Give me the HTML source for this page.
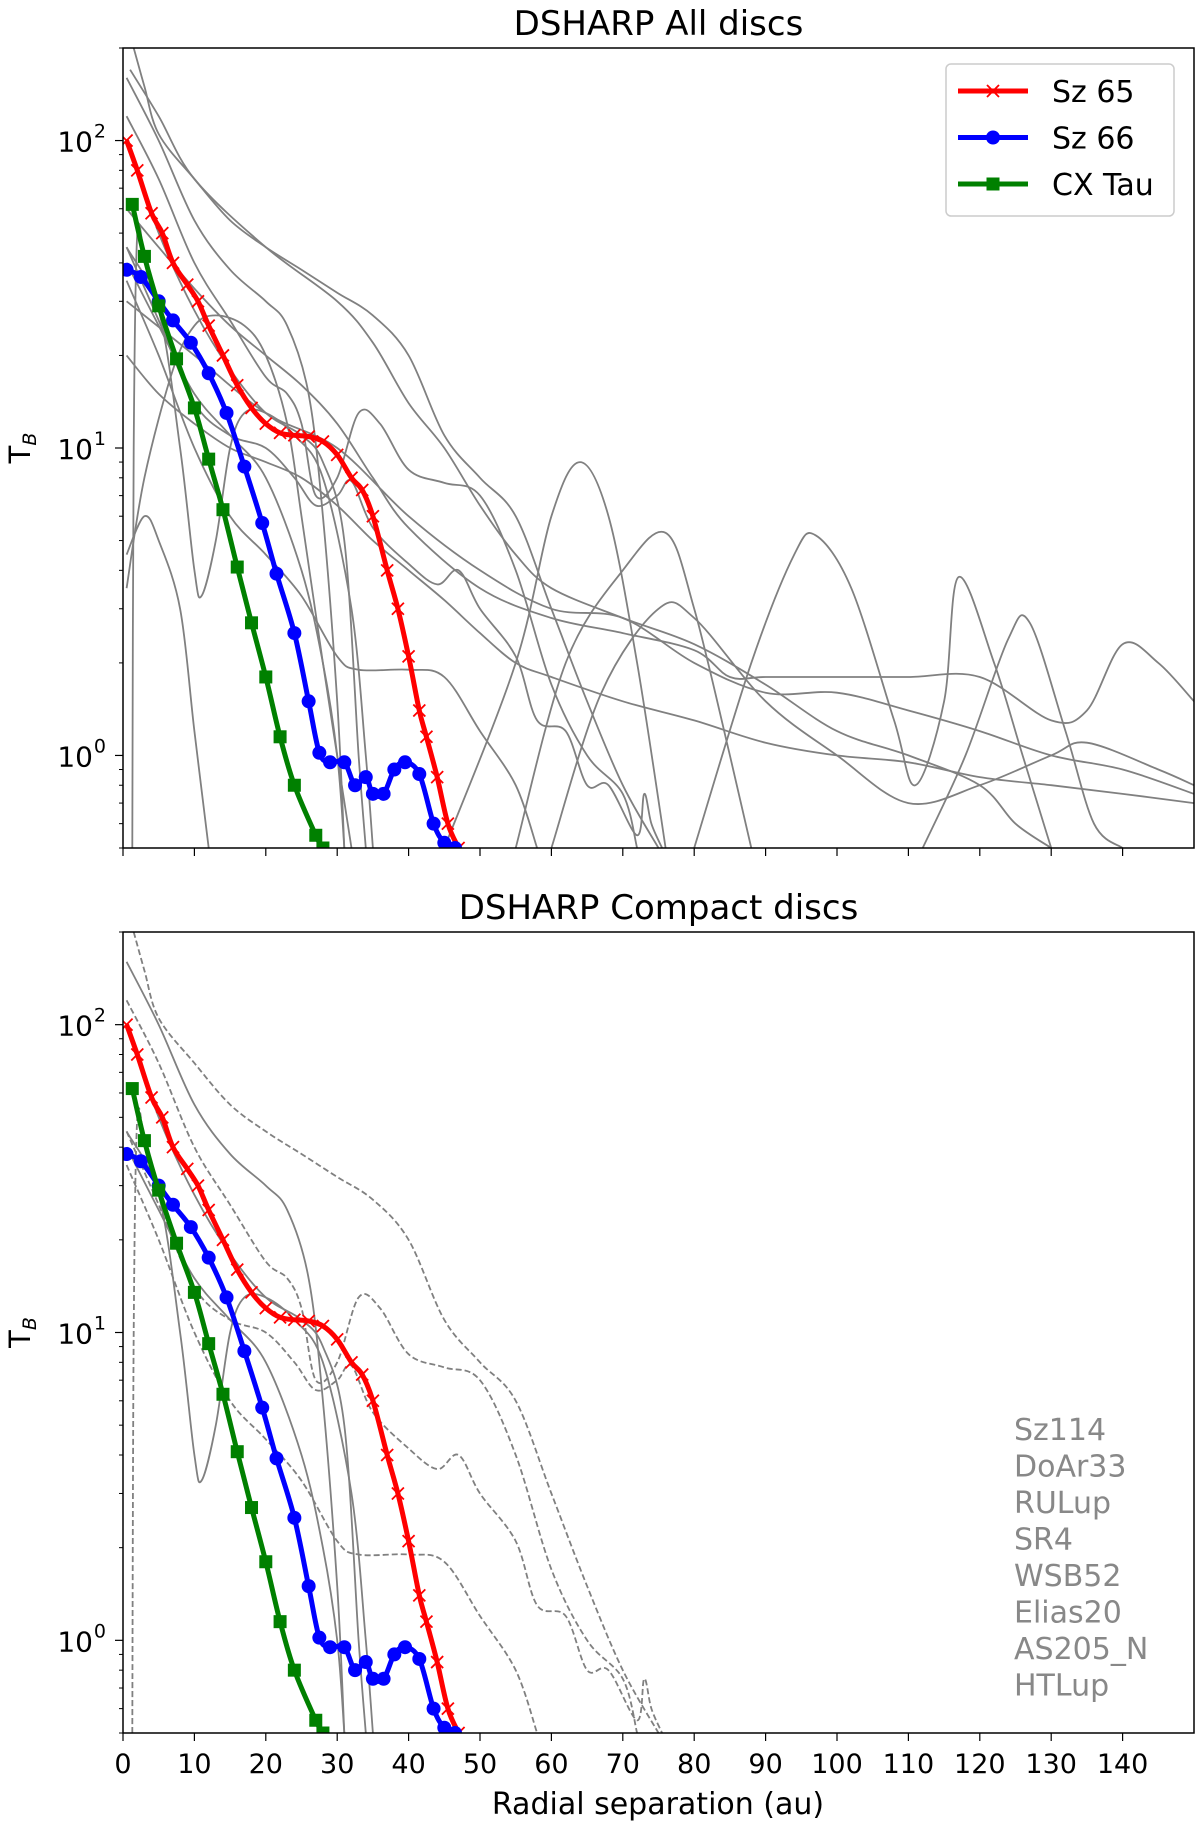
<!DOCTYPE html>
<html><head><meta charset="utf-8"><style>
body{margin:0;background:#fff;width:1200px;height:1825px;overflow:hidden}
svg{display:block;font-family:"DejaVu Sans","Liberation Sans",sans-serif}
</style></head><body>
<svg id="fig" width="1200" height="1825" viewBox="0 0 1200 1825" xmlns="http://www.w3.org/2000/svg"></svg>
<script>
// ---- data ----
const sz65 = [[0.5,100],[2,80],[4,58],[5.5,50],[7,40],[9,34],[10.5,30],[12,25],[14,20],[16,16],[18,13.5],[20,12],[22,11.2],[24,11],[26,10.9],[28,10.5],[30,9.5],[32,8],[33.5,7.3],[35,6],[37,4],[38.5,3],[40,2.1],[41.5,1.4],[42.5,1.15],[44,0.85],[45.5,0.6],[47,0.5]];
const sz66 = [[0.5,38],[2.5,36],[5,30],[7,26],[9.5,22],[12,17.5],[14.5,13],[17,8.7],[19.5,5.7],[21.5,3.9],[24,2.5],[26,1.5],[27.5,1.02],[29,0.95],[31,0.95],[32.5,0.8],[34,0.85],[35,0.75],[36.5,0.75],[38,0.9],[39.5,0.95],[41.5,0.87],[43.5,0.6],[45,0.52],[46.5,0.5]];
const cxtau = [[1.3,62],[3,42],[5,29],[7.5,19.5],[10,13.5],[12,9.2],[14,6.3],[16,4.1],[18,2.7],[20,1.8],[22,1.15],[24,0.8],[27,0.55],[28,0.5]];
const compactSolid = [
 [[0.5,160],[5,100],[10,55],[15,38],[20,30],[23,25],[26,15],[28,6],[30,1.5],[31,0.5]],
 [[0.5,100],[5,50],[10,28],[15,18],[20,13],[25,11],[28,9],[31,5],[33,1],[34,0.5]],
 [[0.5,45],[5,28],[8,10],[10,4],[11,3.3],[13,5],[15,10],[17,13],[20,13],[24,11],[28,8],[32,3],[34,1],[35,0.5]],
 [[0.5,40],[5,25],[10,15],[15,11],[20,8],[25,4],[28,2],[30,1],[31,0.5]]
];
const compactDashed = [
 [[1.5,200],[3,150],[5,105],[10,75],[15,55],[20,45],[25,38],[30,32],[35,27],[40,20],[45,11],[50,8],[55,6],[60,3],[65,1.5],[70,0.8],[75,0.5]],
 [[0.5,120],[5,75],[10,40],[15,26],[20,17],[23,15],[25,12],[27,7],[30,8],[33,13],[36,12],[40,8.5],[45,7.7],[50,7],[55,4],[60,1.7],[65,1],[70,0.75],[72,0.5]],
 [[0.5,45],[5,26],[10,14],[15,11],[20,10],[24,8],[27,6.5],[30,7],[32,7.8],[35,5.5],[40,4.2],[44,3.6],[47,4],[50,3],[55,2.1],[58,1.3],[62,1.2],[65,0.8],[68,0.8],[72,0.55],[73,0.75],[74,0.6],[75.5,0.5]],
 [[0.5,35],[5,20],[10,10],[15,6],[20,4.5],[25,3.3],[30,2.1],[33,1.9],[40,1.9],[45,1.8],[50,1.2],[55,0.8],[58,0.5]],
 [[1.3,0.5],[1.5,10],[2,50],[3,40]]
];
const extraGray = [
 [[0.5,4.5],[3,6],[5,5],[8,3],[10,1.2],[12,0.5]],
 [[0.5,3.5],[3,8],[7,18],[10,25],[13,27],[17,25],[20,20],[23,12],[25,6],[28,2],[32,0.5]],
 [[0.5,20],[5,15],[10,12],[15,10],[20,9],[25,8],[30,6.5],[35,5],[40,4],[45,3.2],[50,2.5],[55,2],[60,1.8],[70,1.5],[80,1.3],[90,1.1],[100,1],[110,0.95],[120,0.85],[130,0.8],[140,0.75],[150,0.7]],
 [[0.5,60],[5,45],[10,33],[15,25],[20,20],[25,16],[30,12],[35,8],[40,5.5],[50,3.5],[60,2.8],[70,2.5],[80,2.2],[85,1.8],[90,1.8],[100,1.8],[110,1.8],[120,1.8],[130,1.3],[135,1.4],[140,2.3],[145,2],[150,1.5]],
 [[0.5,30],[10,20],[20,13],[30,10],[40,6],[50,4],[60,3],[70,2.8],[80,2],[90,1.6],[100,1.6],[110,1.4],[120,1.2],[130,1],[140,0.9],[150,0.75]],
 [[45,0.5],[55,2],[60,6],[64,9],[68,6],[72,2],[76,0.5]],
 [[55,0.5],[62,2],[70,4],[76,5.3],[80,3],[85,1],[88,0.5]],
 [[80,0.5],[88,2],[94,4.5],[97,5.2],[102,3.5],[108,1.3],[111,0.8],[115,1.5],[117,3.8],[122,2],[126,1],[130,0.5]],
 [[112,0.5],[118,1],[124,2.4],[127,2.7],[132,1.2],[136,0.6],[140,0.5]],
 [[60,0.5],[67,1.6],[75,3],[80,2.8],[90,1.5],[100,1],[110,0.7],[120,0.8],[130,1],[135,1.1],[145,0.9],[150,0.8]],
 [[1,170],[5,120],[10,75],[20,45],[30,30],[35,22],[40,14],[45,10],[50,6.5],[55,4.5],[60,3.5],[70,2.8],[80,2.3],[90,1.7],[100,1.2],[110,1],[120,0.8],[125,0.6],[130,0.5]]
];
const xTicks = [0,10,20,30,40,50,60,70,80,90,100,110,120,130,140];
const yDecades = [0,1,2];
const compactNames = ["Sz114","DoAr33","RULup","SR4","WSB52","Elias20","AS205_N","HTLup"];
const legendNames = ["Sz 65","Sz 66","CX Tau"];

// ---- drawing ----
const NS="http://www.w3.org/2000/svg";
const svg=document.getElementById('fig');
function mk(tag,attrs,parent){const e=document.createElementNS(NS,tag);for(const k in attrs)e.setAttribute(k,attrs[k]);(parent||svg).appendChild(e);return e;}
const L=123,R=1194,XMIN=0,XMAX=150,YMIN=0.5,YMAX=200;
function sx(v){return L+(v-XMIN)/(XMAX-XMIN)*(R-L);}
function makeY(top,bot){return v=>bot-(Math.log10(v)-Math.log10(YMIN))/(Math.log10(YMAX)-Math.log10(YMIN))*(bot-top);}
function pathD(pts,sy){
  const P=pts.map(p=>[sx(p[0]),sy(p[1])]);
  let d='M'+P[0][0].toFixed(1)+','+P[0][1].toFixed(1);
  for(let i=0;i<P.length-1;i++){
    const p0=P[Math.max(0,i-1)],p1=P[i],p2=P[i+1],p3=P[Math.min(P.length-1,i+2)];
    const c1=[p1[0]+(p2[0]-p0[0])/6,p1[1]+(p2[1]-p0[1])/6];
    const c2=[p2[0]-(p3[0]-p1[0])/6,p2[1]-(p3[1]-p1[1])/6];
    d+=`C${c1[0].toFixed(1)},${c1[1].toFixed(1)} ${c2[0].toFixed(1)},${c2[1].toFixed(1)} ${p2[0].toFixed(1)},${p2[1].toFixed(1)}`;
  }
  return d;
}

function panel(id,top,bot,title,isCompact){
  const sy=makeY(top,bot);
  const g=mk('g',{});
  
  
  const cp=mk('clipPath',{id:id+'clip'},g);mk('rect',{x:L,y:top,width:R-L,height:bot-top},cp);
  const plot=mk('g',{'clip-path':'url(#'+id+'clip)'},g);
  const grays = isCompact ? [] : extraGray;
  grays.forEach((c,i)=>{const p=mk('path',{d:pathD(c,sy),fill:'none',stroke:'#808080','stroke-width':1.8},plot);
    
    });
  compactSolid.forEach((c,i)=>{const p=mk('path',{d:pathD(c,sy),fill:'none',stroke:'#808080','stroke-width':1.8},plot);
    
    });
  compactDashed.forEach((c,i)=>{const p=mk('path',{d:pathD(c,sy),fill:'none',stroke:'#808080','stroke-width':1.8,'stroke-dasharray':isCompact?'6,3':'none'},plot);
    
    });
  const series=[[sz65,'#ff0000','x','sz65'],[sz66,'#0000ff','o','sz66'],[cxtau,'#008000','s','cxtau']];
  series.forEach(([d,col,m,nm])=>{
    const p=mk('path',{d:pathD(d,sy),fill:'none',stroke:col,'stroke-width':5,'stroke-linejoin':'round'},plot);
    
    
    d.forEach(pt=>{const X=sx(pt[0]),Y=sy(pt[1]);let e;
      if(m==='x')e=mk('path',{d:`M${X-6},${Y-6}L${X+6},${Y+6}M${X-6},${Y+6}L${X+6},${Y-6}`,stroke:col,'stroke-width':1.8},plot);
      else if(m==='o')e=mk('circle',{cx:X,cy:Y,r:7,fill:col},plot);
      else e=mk('rect',{x:X-6.5,y:Y-6.5,width:13,height:13,fill:col},plot);
      
      });
  });
  const fr=mk('rect',{x:L,y:top,width:R-L,height:bot-top,fill:'none',stroke:'#000','stroke-width':1.5},g);
  
  
  xTicks.forEach(t=>{mk('line',{x1:sx(t),x2:sx(t),y1:bot,y2:bot+8,stroke:'#000','stroke-width':1.2},g);
    if(isCompact){const tx=mk('text',{x:sx(t),y:bot+40,'font-size':27,'text-anchor':'middle'},g);tx.textContent=t;
      
      }});
  yDecades.forEach(dcd=>{const Y=sy(Math.pow(10,dcd));
    mk('line',{x1:L-8,x2:L,y1:Y,y2:Y,stroke:'#000','stroke-width':1.2},g);
    const tx=mk('text',{x:L-30,y:Y+11,'font-size':28,'text-anchor':'end'},g);tx.textContent='10';
    
    
    const sp=mk('text',{x:L-17,y:Y-3,'font-size':19,'text-anchor':'end'},g);sp.textContent=String(dcd);
    for(let k=2;k<10;k++){const v=k*Math.pow(10,dcd-1);if(v<YMIN||v>YMAX)continue;const yy=sy(v);
      mk('line',{x1:L-4,x2:L,y1:yy,y2:yy,stroke:'#000','stroke-width':1},g);}
  });
  [2,3,4,5,6,7,8,9].forEach(k=>{const v=k*100;if(v<=YMAX){const yy=sy(v);mk('line',{x1:L-4,x2:L,y1:yy,y2:yy,stroke:'#000','stroke-width':1},g);}});
  const tt=mk('text',{x:(L+R)/2,y:top-13,'font-size':34,'text-anchor':'middle'},g);tt.textContent=title;
  
  
  const yl=mk('text',{x:0,y:0,'font-size':29,'text-anchor':'middle',transform:`translate(30,${(top+bot)/2}) rotate(-90)`},g);
  yl.innerHTML='T<tspan font-size="19" dy="6" font-style="italic">B</tspan>';
  
  
}
panel('all',48,848,'DSHARP All discs',false);
panel('compact',932,1733,'DSHARP Compact discs',true);

// legend
const lg=mk('g',{});


mk('rect',{x:946,y:64,width:228,height:152,rx:5,fill:'#fff',stroke:'#ccc','stroke-width':1.5},lg);
[['#ff0000','x'],['#0000ff','o'],['#008000','s']].forEach(([col,m],i)=>{const y=91+i*46.5;
  mk('line',{x1:958,x2:1028,y1:y,y2:y,stroke:col,'stroke-width':5},lg);
  if(m==='x')mk('path',{d:`M987,${y-6}L999,${y+6}M987,${y+6}L999,${y-6}`,stroke:col,'stroke-width':1.8},lg);
  else if(m==='o')mk('circle',{cx:993,cy:y,r:7,fill:col},lg);
  else mk('rect',{x:986.5,y:y-6.5,width:13,height:13,fill:col},lg);
  const t=mk('text',{x:1052,y:y+11,'font-size':30},lg);t.textContent=legendNames[i];
  
  
});
compactNames.forEach((n,i)=>{const t=mk('text',{x:1014,y:1440+i*36.5,'font-size':30,fill:'#888'});t.textContent=n;
  
  });
const xl=mk('text',{x:658,y:1814,'font-size':30,'text-anchor':'middle'});xl.textContent='Radial separation (au)';


</script>
</body></html>
